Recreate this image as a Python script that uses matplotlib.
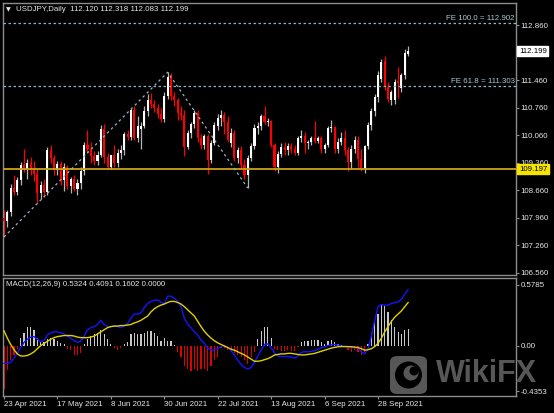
import numpy as np
import pandas as pd
import matplotlib
matplotlib.use("Agg")
import matplotlib.pyplot as plt
import matplotlib.transforms as mtrans
from matplotlib.patches import FancyBboxPatch, Ellipse

plt.rcParams['font.family'] = ['Liberation Sans', 'DejaVu Sans']

# USDJPY daily bars, 23 Apr 2021 .. 11 Oct 2021
dates = pd.bdate_range("2021-04-23", "2021-10-11")

opens = [107.95, 107.88, 108.10, 108.72, 108.62, 108.92, 109.30, 109.20, 109.35, 109.20,
         109.08, 108.58, 108.80, 108.62, 109.68, 109.48, 109.18, 109.32, 108.92, 109.25,
         108.78, 108.95, 108.70, 108.85, 109.15, 109.82, 109.72, 109.52, 109.40, 109.55,
         110.22, 109.50, 109.25, 109.55, 109.35, 109.62, 109.68, 110.08, 110.02, 110.70,
         110.00, 110.22, 110.30, 110.68, 110.95, 110.85, 110.75, 110.60, 110.48, 111.05,
         111.55, 111.05, 110.95, 110.62, 110.58, 109.75, 110.12, 110.35, 110.62, 109.98,
         109.80, 110.05, 109.42, 109.85, 110.30, 110.50, 110.58, 110.40, 109.85, 110.12,
         109.48, 109.68, 109.30, 109.05, 109.48, 109.78, 110.25, 110.30, 110.55, 110.40,
         110.42, 109.80, 109.25, 109.58, 109.75, 109.68, 109.78, 109.72, 109.62, 109.98,
         110.05, 109.85, 109.90, 110.00, 109.92, 110.00, 109.70, 109.80, 110.25, 110.28,
         109.70, 109.90, 109.98, 109.68, 109.38, 109.72, 109.95, 109.45, 109.22, 109.78,
         110.32, 110.68, 111.02, 111.50, 111.95, 111.28, 110.95, 110.95, 111.45, 111.25,
         111.58, 112.120]
highs = [108.15, 108.15, 108.82, 109.05, 109.00, 109.38, 109.72, 109.45, 109.50, 109.40,
         109.20, 108.90, 108.95, 109.75, 109.80, 109.55, 109.40, 109.40, 109.35, 109.30,
         109.00, 109.05, 108.95, 109.25, 109.90, 110.20, 109.90, 109.65, 109.65, 110.32,
         110.35, 109.60, 109.55, 109.80, 109.70, 109.80, 110.15, 110.20, 110.75, 110.80,
         110.55, 110.40, 110.80, 111.10, 111.12, 110.95, 110.85, 110.75, 111.15, 111.66,
         111.65, 111.15, 111.00, 110.80, 110.70, 110.20, 110.40, 110.70, 110.70, 110.08,
         110.10, 110.10, 109.95, 110.40, 110.60, 110.70, 110.65, 110.55, 110.25, 110.20,
         109.75, 109.78, 109.45, 109.55, 109.85, 110.35, 110.40, 110.60, 110.80, 110.50,
         110.45, 109.85, 109.65, 109.85, 109.90, 109.85, 109.85, 109.80, 110.05, 110.20,
         110.15, 109.95, 110.05, 110.42, 110.05, 110.05, 109.85, 110.30, 110.45, 110.30,
         110.00, 110.15, 110.18, 109.75, 109.80, 110.05, 110.05, 109.70, 109.80, 110.40,
         110.75, 111.10, 111.70, 112.00, 112.08, 111.40, 111.20, 111.50, 111.80, 111.65,
         112.25, 112.318]
lows = [107.47, 107.72, 108.02, 108.55, 108.55, 108.80, 109.12, 108.95, 109.05, 108.90,
        108.35, 108.45, 108.50, 108.55, 109.35, 109.05, 109.05, 108.80, 108.65, 108.70,
        108.60, 108.65, 108.55, 108.70, 109.05, 109.60, 109.35, 109.30, 109.30, 109.50,
        109.35, 109.20, 109.20, 109.25, 109.25, 109.45, 109.55, 109.95, 109.95, 109.95,
        109.90, 109.72, 110.25, 110.55, 110.75, 110.65, 110.50, 110.40, 110.40, 110.98,
        110.95, 110.80, 110.45, 110.45, 109.53, 109.70, 110.00, 110.25, 109.90, 109.72,
        109.70, 109.07, 109.35, 109.80, 110.20, 110.30, 110.10, 109.90, 109.75, 109.40,
        109.35, 109.20, 108.95, 108.716, 109.40, 109.70, 110.10, 110.20, 110.35, 110.30,
        109.75, 109.15, 109.10, 109.50, 109.55, 109.55, 109.60, 109.55, 109.55, 109.90,
        109.60, 109.70, 109.80, 109.85, 109.85, 109.60, 109.60, 109.75, 110.15, 109.60,
        109.60, 109.80, 109.55, 109.15, 109.20, 109.60, 109.25, 109.15, 109.10, 109.70,
        110.20, 110.55, 110.90, 111.40, 111.20, 110.90, 110.82, 110.85, 111.00, 111.15,
        111.50, 112.083]
closes = [107.88, 108.10, 108.72, 108.62, 108.92, 109.30, 109.20, 109.35, 109.20, 109.08,
          108.58, 108.80, 108.62, 109.68, 109.48, 109.18, 109.32, 108.92, 109.25, 108.78,
          108.95, 108.70, 108.85, 109.15, 109.80, 109.72, 109.52, 109.40, 109.55, 110.22,
          109.50, 109.25, 109.55, 109.35, 109.62, 109.68, 110.08, 110.02, 110.70, 110.00,
          110.30, 110.30, 110.68, 110.95, 110.85, 110.75, 110.60, 110.48, 111.05, 111.55,
          111.05, 110.95, 110.62, 110.58, 109.75, 110.12, 110.35, 110.62, 109.98, 109.80,
          110.05, 109.42, 109.85, 110.32, 110.50, 110.58, 110.40, 109.95, 110.12, 109.48,
          109.68, 109.30, 109.05, 109.48, 109.78, 110.25, 110.30, 110.55, 110.40, 110.42,
          109.80, 109.25, 109.58, 109.75, 109.68, 109.78, 109.72, 109.62, 109.98, 110.05,
          109.85, 109.90, 110.00, 109.92, 110.00, 109.70, 109.80, 110.25, 110.28, 109.70,
          109.90, 109.98, 109.68, 109.38, 109.72, 109.95, 109.45, 109.22, 109.78, 110.32,
          110.68, 111.02, 111.60, 111.92, 111.28, 110.98, 111.15, 111.42, 111.38, 111.58,
          112.15, 112.199]

# MACD(12,26,9) sub window
macd_main = [-0.17, -0.17, -0.16, -0.12, -0.07, -0.02, 0.03, 0.06, 0.08, 0.085,
             0.06, 0.035, 0.05, 0.10, 0.12, 0.13, 0.13, 0.12, 0.11, 0.09,
             0.07, 0.045, 0.03, 0.04, 0.09, 0.15, 0.17, 0.18, 0.20, 0.24,
             0.20, 0.18, 0.18, 0.185, 0.18, 0.17, 0.19, 0.21, 0.26, 0.30,
             0.30, 0.31, 0.36, 0.40, 0.42, 0.43, 0.435, 0.41, 0.40, 0.47,
             0.47, 0.45, 0.42, 0.37, 0.26, 0.20, 0.17, 0.13, 0.10, 0.05,
             0.02, -0.025, -0.045, -0.045, -0.03, -0.01, 0.00, -0.02, -0.05, -0.09,
             -0.14, -0.18, -0.21, -0.225, -0.21, -0.16, -0.10, -0.045, 0.01, 0.015,
             -0.02, -0.07, -0.10, -0.105, -0.105, -0.105, -0.11, -0.12, -0.10, -0.065,
             -0.06, -0.06, -0.055, -0.05, -0.035, -0.02, -0.015, 0.00, 0.005, 0.008,
             0.005, -0.005, -0.01, -0.015, -0.02, -0.02, -0.025, -0.06, -0.08, -0.03,
             0.09, 0.24, 0.37, 0.39, 0.385, 0.385, 0.40, 0.41, 0.415, 0.44,
             0.49, 0.5324]
macd_signal = [0.14, 0.07, 0.01, -0.04, -0.08, -0.10, -0.10, -0.095, -0.08, -0.06,
               -0.03, 0.00, 0.02, 0.04, 0.06, 0.075, 0.085, 0.09, 0.095, 0.095,
               0.095, 0.09, 0.08, 0.075, 0.075, 0.075, 0.08, 0.09, 0.11, 0.13,
               0.15, 0.17, 0.18, 0.185, 0.185, 0.19, 0.19, 0.195, 0.20, 0.215,
               0.225, 0.24, 0.26, 0.28, 0.32, 0.35, 0.37, 0.385, 0.395, 0.41,
               0.42, 0.42, 0.41, 0.395, 0.37, 0.34, 0.31, 0.28, 0.23, 0.18,
               0.135, 0.10, 0.07, 0.045, 0.025, 0.01, -0.005, -0.02, -0.035, -0.045,
               -0.06, -0.075, -0.09, -0.11, -0.13, -0.15, -0.15, -0.145, -0.135, -0.125,
               -0.11, -0.09, -0.085, -0.08, -0.08, -0.075, -0.075, -0.08, -0.085, -0.09,
               -0.09, -0.085, -0.08, -0.075, -0.065, -0.055, -0.045, -0.035, -0.025, -0.018,
               -0.012, -0.01, -0.01, -0.01, -0.012, -0.015, -0.02, -0.03, -0.045, -0.04,
               -0.03, -0.01, 0.02, 0.07, 0.13, 0.18, 0.23, 0.27, 0.30, 0.33,
               0.37, 0.4091]
macd_hist = [-0.41, -0.23, -0.14, -0.09, -0.03, 0.075, 0.12, 0.18, 0.18, 0.15,
             0.075, 0.045, 0.03, 0.06, 0.075, 0.06, 0.045, 0.02, 0.015, -0.03,
             -0.045, -0.09, -0.09, -0.075, 0.015, 0.06, 0.09, 0.105, 0.12, 0.15,
             0.105, 0.06, 0.015, -0.02, -0.04, -0.02, 0.015, 0.03, 0.11, 0.12,
             0.11, 0.105, 0.12, 0.136, 0.136, 0.12, 0.09, 0.045, 0.075, 0.045,
             0.045, 0.005, -0.06, -0.105, -0.196, -0.226, -0.24, -0.226, -0.24, -0.226,
             -0.226, -0.24, -0.196, -0.136, -0.105, -0.02, -0.02, -0.045, -0.06, -0.075,
             -0.09, -0.105, -0.136, -0.18, -0.105, -0.06, 0.06, 0.136, 0.18, 0.18,
             0.075, -0.03, -0.045, -0.05, -0.05, -0.045, -0.05, -0.05, -0.01, 0.03,
             0.045, 0.045, 0.05, 0.055, 0.05, 0.03, 0.015, 0.045, 0.054, 0.03,
             0.01, 0.005, -0.01, -0.045, -0.06, -0.045, -0.06, -0.09, -0.06, 0.015,
             0.12, 0.21, 0.30, 0.40, 0.38, 0.317, 0.24, 0.18, 0.127, 0.11,
             0.145, 0.1602]

price_ticks = [106.560, 107.260, 107.960, 108.660, 109.360, 110.060, 110.760, 111.460, 112.160, 112.860]
hidden_ticks = [112.160]  # sits under the current-price box
macd_ticks = [-0.4353, 0.0, 0.5785]
macd_tick_labels = ["-0.4353", "0.00", "0.5785"]

# fibo expansion anchors (bar index, price) and levels
fe_bars = [0, 49, 73]
fe_prices = [107.474, 111.660, 108.716]
fe_levels = [111.303, 112.902]
fe_names = ["FE 61.8 = 111.303", "FE 100.0 = 112.902"]
support = 109.197
last_price = 112.199

W, H = 554, 413
fg = '#e6e6e6'
frame = '#8c8c8c'


def box(x0, y0, x1, y1):
    return [x0 / W, 1 - y1 / H, (x1 - x0) / W, (y1 - y0) / H]


fig = plt.figure(figsize=(W / 100, H / 100), dpi=100, facecolor='black')
ax = fig.add_axes(box(3, 3, 516, 275), facecolor='black')
ax2 = fig.add_axes(box(3, 278, 516, 396), facecolor='black')

x = np.arange(len(closes))
o = np.array(opens); c = np.array(closes)
up = c >= o
body_col = np.where(up, '#ffffff', '#ff0000')
wick_col = np.where(up, '#b4b4b4', '#ff0000')

ax.vlines(x, lows, highs, colors=wick_col, linewidth=0.9, zorder=2)
heights = np.maximum(np.abs(c - o), 0.012)
ax.bar(x, heights, bottom=np.minimum(o, c), width=0.62, color=body_col,
       linewidth=0, zorder=3)

# support line and fibo expansion
ax.axhline(support, color='#c9a516', lw=1.3, zorder=4)
fe_col = '#8fb4c4'
ax.plot(fe_bars, fe_prices, color=fe_col, lw=0.9, ls=(0, (2, 2.5)), zorder=4)
for lev, name in zip(fe_levels, fe_names):
    ax.axhline(lev, color=fe_col, lw=0.9, ls=(0, (2, 2)), zorder=4)
    ax.text(0.998, lev + 0.03, name, transform=mtrans.blended_transform_factory(ax.transAxes, ax.transData),
            ha='right', va='bottom', color='#a8c8d8', fontsize=5.7, zorder=5)

ax.set_xlim(-0.3, 153.3)
ax.set_ylim(106.509, 113.419)
ax.set_xticks([])
ax.yaxis.tick_right()
ax.set_yticks(price_ticks)
ax.set_yticklabels(["" if p in hidden_ticks else f"{p:.3f}" for p in price_ticks])
ax.tick_params(axis='y', colors=frame, labelcolor=fg, labelsize=5.7, length=2.5, pad=1, width=0.8)

# price boxes on the scale
trans_y = mtrans.blended_transform_factory(fig.transFigure, ax.transData)
ax.text(519 / W, last_price, f"{last_price:.3f}", transform=trans_y, ha='left', va='center',
        fontsize=5.7, color='black', clip_on=False, zorder=10,
        bbox=dict(boxstyle='square,pad=0.2', fc='white', ec='white'))
ax.text(519 / W, support, f"{support:.3f}", transform=trans_y, ha='left', va='center',
        fontsize=5.7, color='black', clip_on=False, zorder=10,
        bbox=dict(boxstyle='square,pad=0.2', fc='#f5e400', ec='#f5e400'))

# MACD window
hist_col = ['#c8c8c8' if h >= 0 else '#e00000' for h in macd_hist]
ax2.bar(x, macd_hist, width=0.36, color=hist_col, linewidth=0, zorder=2)
ax2.plot(x, macd_main, color='#1414ff', lw=1.0, zorder=3)
ax2.plot(x, macd_signal, color='#e0d000', lw=1.0, zorder=3)
ax2.set_xlim(-0.3, 153.3)
ax2.set_ylim(-0.481, 0.643)
ax2.yaxis.tick_right()
ax2.set_yticks(macd_ticks)
ax2.set_yticklabels(macd_tick_labels)
ax2.tick_params(axis='y', colors=frame, labelcolor=fg, labelsize=5.7, length=2.5, pad=1, width=0.8)

tick_bars = x[::16]
ax2.set_xticks(tick_bars)
ax2.set_xticklabels([f"{dates[i].day} {dates[i]:%b %Y}" for i in tick_bars], ha='left')
ax2.tick_params(axis='x', colors=frame, labelcolor=fg, labelsize=5.7, length=2.5, pad=1, width=0.8)

for a in (ax, ax2):
    for s in a.spines.values():
        s.set_color(frame)
        s.set_linewidth(1.0)

# header texts
fig.text(6 / W, 1 - 9.5 / H, "\u25bc", color=fg, fontsize=4.5, va='center', family='DejaVu Sans')
fig.text(16 / W, 1 - 9.5 / H, "USDJPY,Daily  112.120 112.318 112.083 112.199",
         color=fg, fontsize=5.7, va='center')
fig.text(6 / W, 1 - 285 / H, "MACD(12,26,9) 0.5324 0.4091 0.1602 0.0000",
         color=fg, fontsize=5.7, va='center')

# WikiFX watermark
wm = '#575757'
fig.patches.append(FancyBboxPatch((390 / W, 1 - 394 / H), 37 / W, 38 / H,
                                  boxstyle='round,pad=0,rounding_size=0.014',
                                  transform=fig.transFigure, fc=wm, ec='none', zorder=5))
fig.patches.append(Ellipse((408.5 / W, 1 - 375 / H), 27 / W, 27 / H,
                           transform=fig.transFigure, fc='black', ec='none', zorder=6))
fig.patches.append(Ellipse((411 / W, 1 - 373 / H), 15 / W, 15 / H,
                           transform=fig.transFigure, fc=wm, ec='none', zorder=7))
fig.patches.append(Ellipse((414 / W, 1 - 371 / H), 9 / W, 9 / H,
                           transform=fig.transFigure, fc='black', ec='none', zorder=8))
fig.text(436 / W, 1 - 374 / H, "WikiFX", color=wm, fontsize=22, fontweight='bold',
         va='center', ha='left', zorder=6)

fig.savefig("out.png", dpi=100, facecolor='black')
